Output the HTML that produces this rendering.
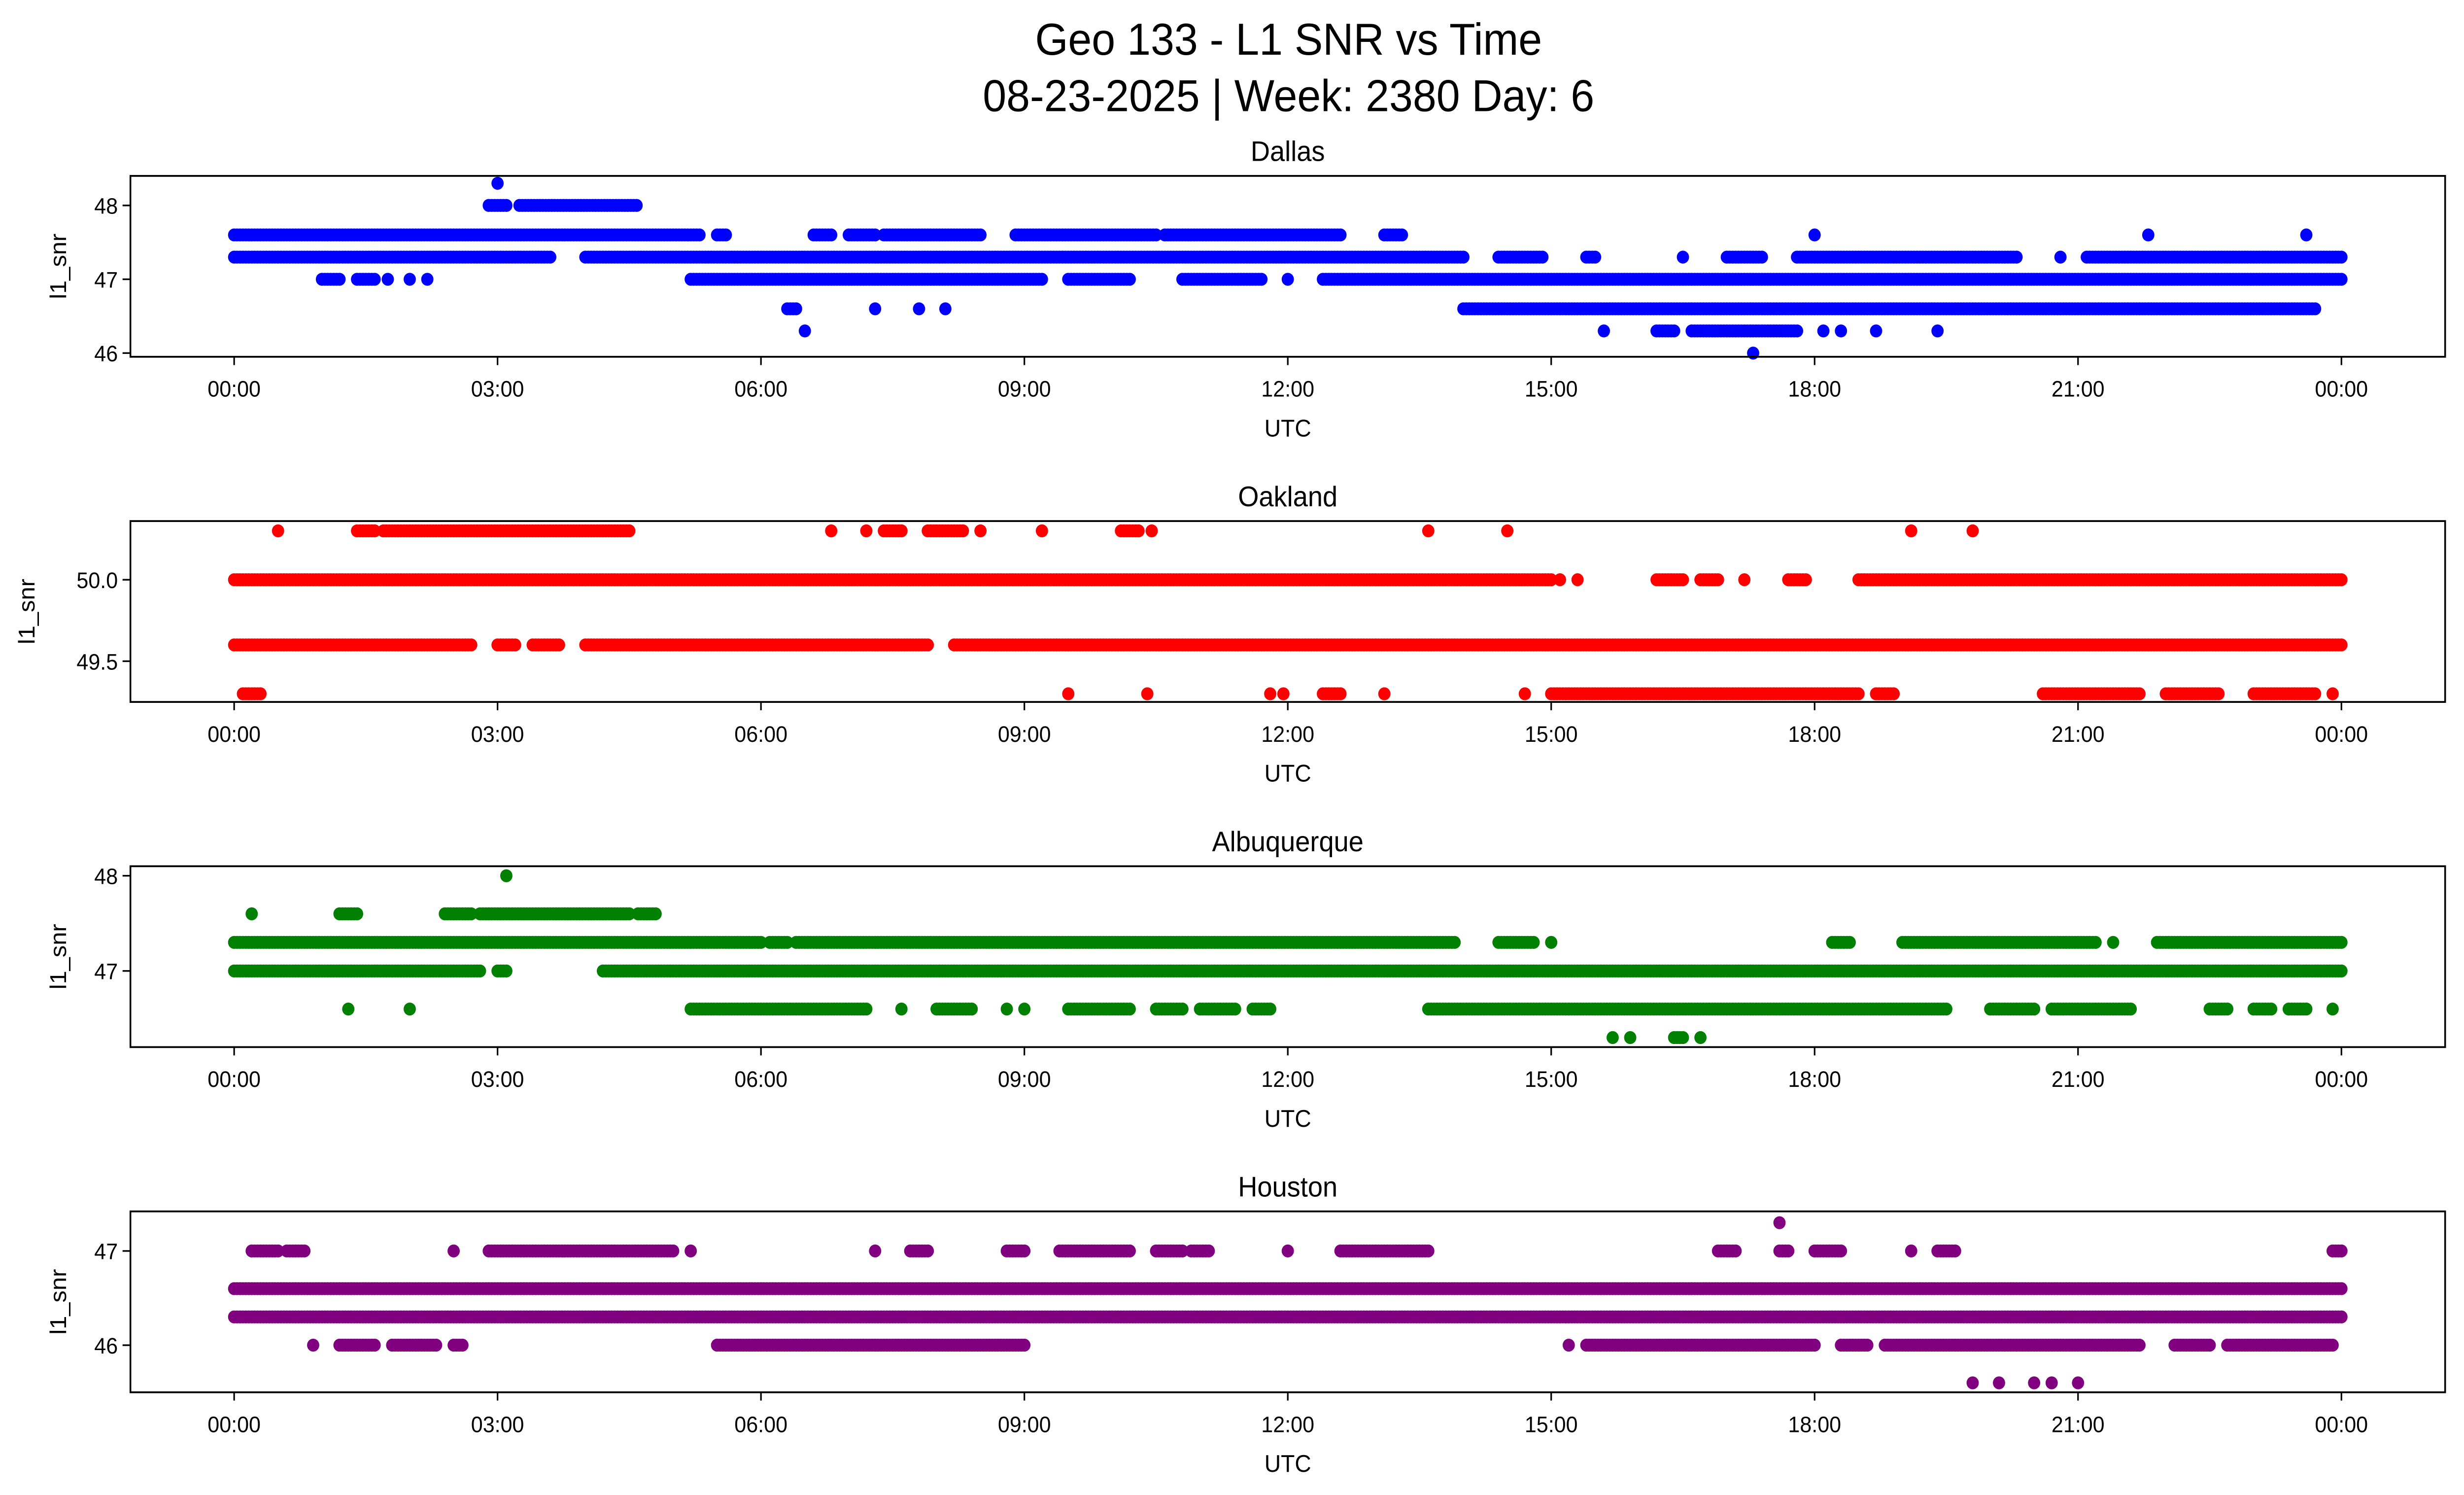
<!DOCTYPE html>
<html><head><meta charset="utf-8"><style>
html,body{margin:0;padding:0;background:#fff;width:100%;height:100%;overflow:hidden;}
svg{display:block;width:100vw;height:100vh;}
text{font-family:"Liberation Sans","DejaVu Sans",sans-serif;fill:#000;}
</style></head><body>
<svg id="root" viewBox="0 0 1568 900.9" preserveAspectRatio="none" xmlns="http://www.w3.org/2000/svg">
<rect width="1568" height="901" fill="#fff"/>
<g id="chart">
<text x="820" y="33" font-size="27" text-anchor="middle">Geo 133 - L1 SNR vs Time</text>
<text x="820" y="67" font-size="27" text-anchor="middle">08-23-2025 | Week: 2380 Day: 6</text>
</g>
</svg>
<script>
// x axis tick labels (hours)
const xTickHours=[0,3,6,9,12,15,18,21,24];
const xTickLabels=["00:00","03:00","06:00","09:00","12:00","15:00","18:00","21:00","00:00"];
// Panel titles
const stations=["Dallas","Oakland","Albuquerque","Houston"];
const colors=["#0000ff","#ff0000","#008000","#800080"];
const yTicks=[[46,47,48],[49.5,50.0],[47,48],[46,47]];
const yTickLabels=[["46","47","48"],["49.5","50.0"],["47","48"],["46","47"]];
// SNR levels and observed runs [startHour,endHour] per station
const dallasLevels=[48.3,48.0,47.6,47.3,47.0,46.6,46.3,46.0];
const dallasRuns=[
 [[3.0,3.0]],
 [[2.9,3.1],[3.25,4.6]],
 [[0,5.3],[5.5,5.6],[6.6,6.8],[7.0,7.3],[7.4,8.5],[8.9,10.5],[10.6,12.6],[13.1,13.3],[18.0,18.0],[21.8,21.8],[23.6,23.6]],
 [[0,3.6],[4.0,14.0],[14.4,14.9],[15.4,15.5],[16.5,16.5],[17.0,17.4],[17.8,20.3],[20.8,20.8],[21.1,24]],
 [[1.0,1.2],[1.4,1.6],[1.75,1.75],[2.0,2.0],[2.2,2.2],[5.2,9.2],[9.5,10.2],[10.8,11.7],[12.0,12.0],[12.4,24]],
 [[6.3,6.4],[7.3,7.3],[7.8,7.8],[8.1,8.1],[14.0,23.7]],
 [[6.5,6.5],[15.6,15.6],[16.2,16.4],[16.6,17.8],[18.1,18.1],[18.3,18.3],[18.7,18.7],[19.4,19.4]],
 [[17.3,17.3]]
];
const oaklandLevels=[50.3,50.0,49.6,49.3];
const oaklandRuns=[
 [[0.5,0.5],[1.4,1.6],[1.7,4.5],[6.8,6.8],[7.2,7.2],[7.4,7.6],[7.9,8.3],[8.5,8.5],[9.2,9.2],[10.1,10.3],[10.45,10.45],[13.6,13.6],[14.5,14.5],[19.1,19.1],[19.8,19.8]],
 [[0,15.0],[15.1,15.1],[15.3,15.3],[16.2,16.5],[16.7,16.9],[17.2,17.2],[17.7,17.9],[18.5,24]],
 [[0,2.7],[3.0,3.2],[3.4,3.7],[4.0,7.9],[8.2,24]],
 [[0.1,0.3],[9.5,9.5],[10.4,10.4],[11.8,11.8],[11.95,11.95],[12.4,12.6],[13.1,13.1],[14.7,14.7],[15.0,18.5],[18.7,18.9],[20.6,21.7],[22.0,22.6],[23.0,23.7],[23.9,23.9]]
];
const abqLevels=[48.0,47.6,47.3,47.0,46.6,46.3];
const abqRuns=[
 [[3.1,3.1]],
 [[0.2,0.2],[1.2,1.4],[2.4,2.7],[2.8,4.5],[4.6,4.8]],
 [[0,6.0],[6.1,6.3],[6.4,13.9],[14.4,14.8],[15.0,15.0],[18.2,18.4],[19.0,21.2],[21.4,21.4],[21.9,24]],
 [[0,2.8],[3.0,3.1],[4.2,24]],
 [[1.3,1.3],[2.0,2.0],[5.2,7.2],[7.6,7.6],[8.0,8.4],[8.8,8.8],[9.0,9.0],[9.5,10.2],[10.5,10.8],[11.0,11.4],[11.6,11.8],[13.6,19.5],[20.0,20.5],[20.7,21.6],[22.5,22.7],[23.0,23.2],[23.4,23.6],[23.9,23.9]],
 [[15.7,15.7],[15.9,15.9],[16.4,16.5],[16.7,16.7]]
];
const houLevels=[47.3,47.0,46.6,46.3,46.0,45.6];
const houRuns=[
 [[17.6,17.6]],
 [[0.2,0.5],[0.6,0.8],[2.5,2.5],[2.9,5.0],[5.2,5.2],[7.3,7.3],[7.7,7.9],[8.8,9.0],[9.4,10.2],[10.5,10.8],[10.9,11.1],[12.0,12.0],[12.6,13.6],[16.9,17.1],[17.6,17.7],[18.0,18.3],[19.1,19.1],[19.4,19.6],[23.9,24]],
 [[0,24]],
 [[0,24]],
 [[0.9,0.9],[1.2,1.6],[1.8,2.3],[2.5,2.6],[5.5,9.0],[15.2,15.2],[15.4,18.0],[18.3,18.6],[18.8,21.7],[22.1,22.5],[22.7,23.9]],
 [[19.8,19.8],[20.1,20.1],[20.5,20.5],[20.7,20.7],[21.0,21.0]]
];
const allLevels=[dallasLevels,oaklandLevels,abqLevels,houLevels];
const allRuns=[dallasRuns,oaklandRuns,abqRuns,houRuns];
const yDomains=[[45.95,48.4],[49.25,50.36],[46.2,48.1],[45.5,47.42]];

const NS="http://www.w3.org/2000/svg";
const svg=document.getElementById('chart');
const L=83,R=1556,X0=149,X1=1490;
const tops=[106,314,522,730],H=109;
function xs(h){return X0+(X1-X0)*h/24;}
function mk(tag,attrs,parent){const e=document.createElementNS(NS,tag);for(const k in attrs)e.setAttribute(k,attrs[k]);(parent||svg).appendChild(e);return e;}

for(let p=0;p<4;p++){
  const top=tops[p],bot=top+H,dom=yDomains[p];
  const ys=v=>bot-(v-dom[0])/(dom[1]-dom[0])*H;
  const g=mk('g',{});
  
  
  const t=mk('text',{x:(L+R)/2,y:top-9,'font-size':17,'text-anchor':'middle'},g);
  t.textContent=stations[p];
  
  
  const pts=mk('g',{fill:colors[p]},g);
  
  
  const lv=allLevels[p],runs=allRuns[p];
  for(let i=0;i<lv.length;i++){
    const y=ys(lv[i]);
    for(const r of runs[i]){
      for(let h=r[0];h<=r[1]+1e-9;h+=1/30){
        const c=mk('circle',{cx:xs(h).toFixed(2),cy:y.toFixed(2),r:3.9},pts);
        
        
      }
    }
  }
  const box=mk('rect',{x:L,y:top,width:R-L,height:H,fill:'none',stroke:'#000','stroke-width':1.1},g);
  
  
  for(let i=0;i<xTickHours.length;i++){
    const x=xs(xTickHours[i]);
    mk('line',{x1:x,x2:x,y1:bot,y2:bot+5,stroke:'#000','stroke-width':1},g);
    const tl=mk('text',{x:x,y:bot+24,'font-size':13.5,'text-anchor':'middle'},g);
    tl.textContent=xTickLabels[i];
    
    
  }
  const xl=mk('text',{x:(L+R)/2,y:bot+48,'font-size':14.5,'text-anchor':'middle'},g);
  xl.textContent='UTC';
  
  
  for(let i=0;i<yTicks[p].length;i++){
    const y=ys(yTicks[p][i]);
    mk('line',{x1:L-5,x2:L,y1:y,y2:y,stroke:'#000','stroke-width':1},g);
    const tl=mk('text',{x:L-8,y:y+5,'font-size':13.5,'text-anchor':'end'},g);
    tl.textContent=yTickLabels[p][i];
    
    
  }
  const yl=mk('text',{x:0,y:0,'font-size':14.5,'text-anchor':'middle',transform:`translate(${p==1?22:42},${top+H/2}) rotate(-90)`},g);
  yl.textContent='l1_snr';
  
  
}
</script>
</body></html>
